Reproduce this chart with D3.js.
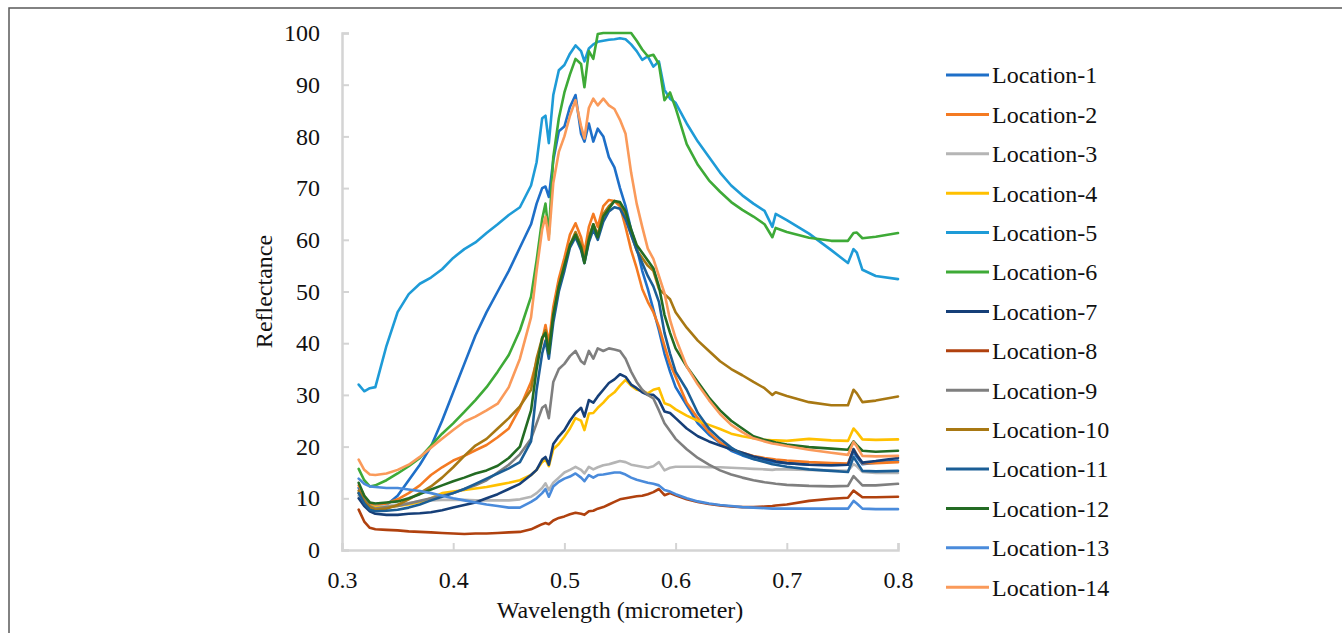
<!DOCTYPE html>
<html>
<head>
<meta charset="utf-8">
<script src="https://cdn.jsdelivr.net/npm/d3@7"></script>
<style>
  body { margin: 0; background: #fff; }
  svg { display: block; }
  text { font-family: "Liberation Serif", "Times New Roman", "DejaVu Serif", serif; fill: #111; }
</style>
</head>
<body>
<div id="chart"></div>
<script>
// wavelength grid (micrometer) shared by every location
const wavelengths = [
  0.315, 0.32, 0.325, 0.33,
  0.34, 0.35, 0.36, 0.37, 0.38, 0.39,
  0.40, 0.41, 0.42, 0.43, 0.44, 0.45, 0.46, 0.47,
  0.475, 0.48, 0.483, 0.486, 0.49, 0.495,
  0.50, 0.505, 0.51, 0.515, 0.518, 0.522, 0.526,
  0.53, 0.535, 0.54, 0.545, 0.55, 0.555, 0.56,
  0.565, 0.57, 0.575, 0.58, 0.585, 0.59, 0.595, 0.60,
  0.61, 0.62, 0.63, 0.64, 0.65, 0.66, 0.67, 0.68,
  0.687, 0.69, 0.70, 0.72, 0.74, 0.755, 0.76, 0.763, 0.768, 0.78, 0.80
];

// reflectance, one array per location
const loc1 = [12, 10, 8.5, 8,
  8.7, 10.5, 13.5, 16.5, 20, 25,
  30.5, 36, 41.5, 46, 50, 54, 58.5, 63,
  67, 70, 70.3, 68.3, 75.4, 81,
  81.9, 85.7, 88, 80.5, 79, 82.5, 79,
  81.5, 80, 76, 74, 70, 66.5, 62,
  58.5, 54, 50.5, 46.5, 42.5, 38, 34.5, 31.5,
  28, 24.5, 22.3, 20.7, 19.2, 18.3, 17.6, 17.2,
  17, 17, 16.8, 16.5, 16.4, 16.5, 19, 18, 16.6, 16.9, 17.3];
const loc2 = [12.5, 10.5, 9, 8.5,
  9, 9.8, 11, 12.5, 14.5, 16,
  17.3, 18.2, 19.3, 20.3, 21.8, 23.5, 27.5, 32.5,
  36.5, 40.5, 43.5, 40, 47, 52.5,
  56.5, 61, 63.2, 60.5, 57.5, 62.5, 65,
  62.5, 66.5, 67.7, 67.5, 66.5, 62.5, 58,
  54.5, 50.5, 48, 46, 43.2, 39.5, 36, 33.5,
  28.5, 25.5, 22.8, 20.8, 19.5, 18.8, 18.2, 17.8,
  17.6, 17.5, 17.3, 17, 16.8, 16.7, 19.5, 18.5, 16.8, 16.8, 17];
const loc3 = [10.5, 9.5, 8.5, 8.3,
  8.5, 8.8, 9.1, 9.4, 9.6, 9.7,
  9.7, 9.7, 9.6, 9.6, 9.6, 9.6, 9.8, 10.3,
  11, 12, 12.9, 11.6, 13, 14,
  15, 15.5, 16.1, 15.5, 14.8, 16.1, 15.6,
  16, 16.4, 16.6, 16.9, 17.2, 17, 16.5,
  16.3, 16.1, 15.9, 16.2, 17, 15.4, 15.9, 16.1,
  16.1, 16.1, 16, 16, 15.9, 15.8, 15.7, 15.6,
  15.5, 15.6, 15.6, 15.5, 15.4, 15.3, 16.6, 16.2, 15.1, 14.9, 14.9];
const loc4 = [11, 9.5, 8.5, 8.2,
  8.3, 8.5, 8.8, 9.3, 10, 11,
  11.3, 11.6, 11.9, 12.2, 12.6, 13, 13.5, 14.5,
  15.5, 17, 17.5, 16.2, 19.5, 20.5,
  21.9, 23.5, 25.5, 25, 23.2, 26.4, 26.5,
  27.5, 28.5, 29.7, 30.5, 31.8, 32.9, 31.8,
  31, 30.8, 30.3, 31, 31.3, 28.4, 28, 27.2,
  26, 25, 24.2, 23.4, 22.5, 22, 21.6, 21.3,
  21.2, 21.2, 21.1, 21.5, 21.2, 21.1, 23.5, 22.8, 21.4, 21.3, 21.4];
const loc5 = [32, 30.7, 31.3, 31.5,
  39.5, 46, 49.5, 51.5, 52.7, 54.3,
  56.5, 58.2, 59.5, 61.3, 63, 64.8, 66.3, 70.5,
  75, 83.5, 84, 78.7, 88, 92.8,
  93.8, 96, 97.6, 96.5, 94.5, 97, 97.8,
  98.3, 98.5, 98.7, 98.8, 99, 98.8, 97.8,
  96.5, 94.8, 95.5, 93.5, 94.5, 89, 87.3, 86.5,
  82.5, 79, 76, 73, 70.5, 68.6, 67, 65.6,
  62.5, 65, 63.8, 61.2, 58, 55.5, 58.2, 57.5, 54.2, 53, 52.4];
const loc6 = [15.7, 13.5, 12.3, 12.5,
  13.5, 14.8, 16.2, 17.8, 20.2, 22.5,
  24.5, 26.7, 29, 31.5, 34.5, 37.7, 42.5, 49,
  56, 64, 67, 61, 76, 83.5,
  88.5, 92, 95, 94, 89.5, 96.5, 95,
  99.8, 100, 100, 100, 100, 100, 100,
  98.5, 96.8, 95.5, 95.8, 94, 87, 88.5, 85.5,
  78.5, 74.5, 71.5, 69.3, 67.3, 65.8, 64.5, 63,
  60.5, 62.3, 61.5, 60.4, 59.8, 59.8, 61.3, 61.4, 60.3, 60.6, 61.3];
const loc7 = [10, 8.5, 7.5, 7,
  6.8, 6.8, 7, 7.1, 7.3, 7.7,
  8.2, 8.7, 9.2, 10, 10.8, 11.8, 12.8, 14.5,
  15.5, 17.5, 18, 16.5, 20.5, 22,
  23.2, 25, 26.5, 27.5, 25.8, 29, 28.5,
  29.7, 31, 32.3, 33, 34, 33.5, 32,
  31.3, 30.5, 30, 30, 29, 26.8, 26.5, 25.5,
  23.5, 22, 21, 20.2, 19.5, 18.8, 18.1, 17.6,
  17.3, 17.1, 16.8, 16.5, 16.4, 16.5, 19.5, 18.3, 16.9, 17.2, 17.8];
const loc8 = [7.8, 5.5, 4.3, 4,
  3.9, 3.8, 3.6, 3.5, 3.4, 3.3,
  3.2, 3.1, 3.2, 3.2, 3.3, 3.4, 3.5, 4,
  4.5, 5, 5.2, 5, 5.7, 6.2,
  6.5, 6.9, 7.2, 7, 6.8, 7.5, 7.6,
  8, 8.3, 8.8, 9.3, 9.8, 10, 10.2,
  10.4, 10.5, 10.8, 11.2, 11.8, 10.6, 11, 10.6,
  9.8, 9.3, 8.9, 8.6, 8.4, 8.3, 8.3, 8.4,
  8.5, 8.6, 8.8, 9.5, 9.9, 10.1, 11.5, 11, 10.2, 10.2, 10.3];
const loc9 = [11, 10, 8.5, 8,
  8.3, 8.5, 9, 9.5, 10, 10.5,
  11, 11.8, 12.5, 13.5, 15, 16.5, 18.5, 21.5,
  24.5, 27.5, 28, 25.5, 32.5, 35,
  36, 37.5, 38.5, 36.5, 36, 38.5, 37,
  39, 38.5, 39, 38.8, 38.5, 37, 34.5,
  32.5, 31, 30, 29.3, 27, 24.5, 23, 21.5,
  19.5, 17.8, 16.5, 15.4, 14.6, 14, 13.5, 13.1,
  12.9, 12.8, 12.6, 12.4, 12.3, 12.4, 14.3, 13.6, 12.5, 12.5, 12.8];
const loc10 = [11.5, 9.5, 8.3, 7.8,
  8, 8.7, 9.8, 11, 12.3, 14,
  16, 18.2, 20.2, 21.5, 23.5, 25.5, 27.8, 31,
  37, 41, 42.5, 39, 45, 51,
  55, 59, 61.5, 59, 56, 60.5, 63,
  61, 65, 66.5, 67.5, 67, 64.5, 61,
  58, 56.5, 55, 54, 50.5, 49.5, 48.5, 46,
  43, 40.5, 38.5, 36.5, 35, 33.8, 32.5, 31.3,
  30, 30.5, 29.8, 28.6, 28, 28, 31, 30.3, 28.6, 28.9, 29.7];
const loc11 = [11, 9, 7.8, 7.5,
  7.6, 7.8, 8.2, 8.8, 9.6, 10.3,
  11, 11.8, 12.8, 13.8, 14.8, 15.8, 17, 21,
  31, 38, 40.5, 37, 44, 50,
  54, 58.5, 60.5, 58, 55.5, 59.5, 62,
  60, 63.5, 65.5, 66.3, 66, 64, 61,
  58, 55.5, 53, 51, 48, 42, 38, 34.5,
  31, 26.5, 23.5, 21.5, 19.8, 18.5, 17.6, 17,
  16.6, 16.5, 16.1, 15.6, 15.3, 15.1, 18, 17, 15.3, 15.2, 15.3];
const loc12 = [13, 10.5, 9.2, 9,
  9.2, 9.4, 10, 10.8, 11.7, 12.5,
  13.3, 14, 14.8, 15.4, 16.3, 17.8, 20, 27,
  35, 41, 42, 38, 45.5, 51,
  55, 59, 61, 58.5, 55.5, 60, 63,
  60.5, 64.5, 66, 67.5, 67.3, 65.5, 62,
  59, 57.5, 56, 54.5, 51, 45.5, 42, 39,
  35.5, 32.5, 29.5, 27, 25, 23.5, 22, 21.3,
  21, 20.8, 20.4, 19.9, 19.6, 19.4, 21, 20.3, 19.2, 19, 19.2];
const loc13 = [13.8, 12.8, 12.3, 12.2,
  12, 12, 11.7, 11.4, 11, 10.5,
  10, 9.6, 9.2, 8.8, 8.5, 8.2, 8.2, 9.3,
  10, 11, 11.8, 10.3, 12.3, 13.2,
  13.8, 14.2, 14.8, 14, 13.3, 14.5, 14,
  14.5, 14.6, 14.8, 15, 15, 14.6, 14,
  13.6, 13.3, 13, 12.8, 12.5, 11.6, 11.3, 10.8,
  10, 9.4, 9, 8.7, 8.5, 8.3, 8.2, 8.1,
  8, 8, 8, 8, 8, 8, 9.5, 9, 8, 7.9, 7.9];
const loc14 = [17.5, 15.5, 14.6, 14.5,
  14.8, 15.5, 16.5, 18, 19.8, 21.5,
  23.2, 24.8, 25.8, 27, 28.3, 31.5, 37, 45,
  54, 62, 64.5, 60, 71, 77,
  80, 84, 87, 82, 79.6, 85.5, 87.3,
  86, 87.3, 86, 85.3, 83.2, 80.5, 73,
  67, 62.5, 58.3, 56.3, 53, 49.7, 44.5, 41,
  35.5, 32, 29, 26.3, 24.2, 22.8, 21.6, 21,
  20.6, 20.5, 20.1, 19.4, 18.8, 18.4, 20.9, 20, 18.2, 18.1, 18.2];

const seriesNames = ["Location-1", "Location-2", "Location-3", "Location-4", "Location-5",
  "Location-6", "Location-7", "Location-8", "Location-9", "Location-10",
  "Location-11", "Location-12", "Location-13", "Location-14"];
const seriesColors = ["#1e6fc8", "#f47a22", "#b5b5b5", "#ffc000", "#1e9bd7", "#3eaa37",
  "#163f78", "#b0410e", "#7f7f7f", "#a87813", "#1b5e96", "#236b23", "#4a8bdb", "#fa9a5a"];
const allValues = [loc1, loc2, loc3, loc4, loc5, loc6, loc7, loc8, loc9, loc10, loc11, loc12, loc13, loc14];

const xTicks = [0.3, 0.4, 0.5, 0.6, 0.7, 0.8];
const yTicks = [0, 10, 20, 30, 40, 50, 60, 70, 80, 90, 100];

const serif = '"Liberation Serif", "Times New Roman", "DejaVu Serif", serif';
const W = 1342, H = 633;
const svg = d3.select("#chart").append("svg")
  .attr("width", W)
  .attr("height", H);

// chart area frame, only top and left edges are visible in the picture
svg.append("rect")
  .attr("x", 9).attr("y", 8)
  .attr("width", W + 20).attr("height", H + 20)
  .attr("fill", "none")
  .attr("stroke", "#5a5a5a")
  .attr("stroke-width", 1.5);

const x = d3.scaleLinear().domain([0.3, 0.8]).range([342, 898]);
const y = d3.scaleLinear().domain([0, 100]).range([550, 33]);

// axes, ticks pointing into the plot
const xAxis = svg.append("g")
  .attr("transform", `translate(0,${y(0)})`)
  .call(d3.axisBottom(x).tickValues(xTicks).tickFormat(d3.format(".1f")).tickSize(-7).tickPadding(21));
const yAxis = svg.append("g")
  .attr("transform", `translate(${x(0.3)},0)`)
  .call(d3.axisLeft(y).tickValues(yTicks).tickSize(-7).tickPadding(22));

[xAxis, yAxis].forEach(g => {
  g.attr("font-family", serif).attr("font-size", 24);
  g.select(".domain").attr("stroke", "#d4d4d4").attr("stroke-width", 2.5);
  g.selectAll(".tick line").attr("stroke", "#d4d4d4").attr("stroke-width", 2);
  g.selectAll(".tick text").attr("fill", "#111");
});

// spectra
const line = d3.line()
  .x((d, i) => x(wavelengths[i]))
  .y(d => y(d));

svg.append("g")
  .selectAll("path")
  .data(allValues)
  .enter().append("path")
  .attr("d", d => line(d))
  .attr("fill", "none")
  .attr("stroke", (d, i) => seriesColors[i])
  .attr("stroke-width", 2.6)
  .attr("stroke-linejoin", "round")
  .attr("stroke-linecap", "round");

// axis titles
svg.append("text")
  .attr("transform", `translate(264,${(y(0) + y(100)) / 2}) rotate(-90)`)
  .attr("text-anchor", "middle")
  .attr("dy", "0.35em")
  .attr("font-family", serif)
  .attr("font-size", 24)
  .text("Reflectance");

svg.append("text")
  .attr("x", (x(0.3) + x(0.8)) / 2)
  .attr("y", 610)
  .attr("text-anchor", "middle")
  .attr("dy", "0.35em")
  .attr("font-family", serif)
  .attr("font-size", 24)
  .text("Wavelength (micrometer)");

// legend
const legend = svg.append("g")
  .attr("font-family", serif)
  .attr("font-size", 24)
  .selectAll("g")
  .data(seriesNames)
  .enter().append("g")
  .attr("transform", (d, i) => `translate(946,${75 + i * 39.4})`);

legend.append("line")
  .attr("x1", 0).attr("x2", 43)
  .attr("y1", 0).attr("y2", 0)
  .attr("stroke", (d, i) => seriesColors[i])
  .attr("stroke-width", 3);

legend.append("text")
  .attr("x", 46)
  .attr("dy", "0.35em")
  .text(d => d);
</script>
</body>
</html>
